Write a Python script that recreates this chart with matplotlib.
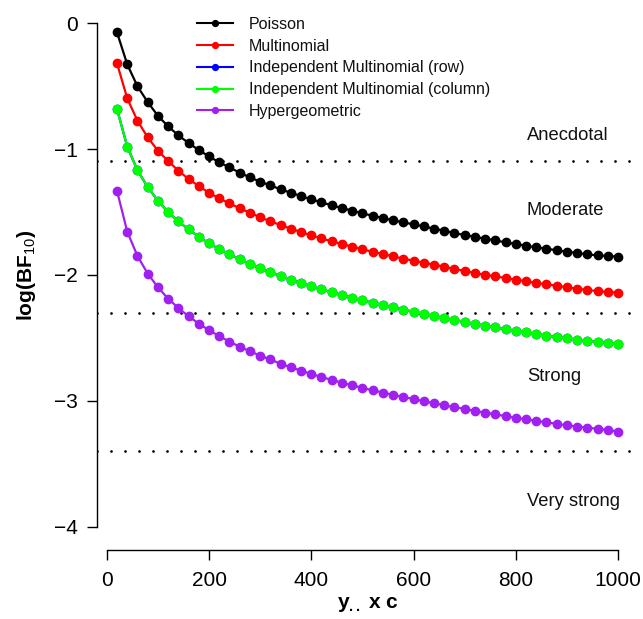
import matplotlib
matplotlib.use("Agg")
import matplotlib.pyplot as plt

plt.rcParams['font.family'] = ['Liberation Sans', 'DejaVu Sans']
plt.rcParams['mathtext.fontset'] = 'custom'
plt.rcParams['mathtext.rm'] = 'Liberation Sans'
plt.rcParams['mathtext.bf'] = 'Liberation Sans:bold'
plt.rcParams['mathtext.it'] = 'Liberation Sans:italic'

n_total = list(range(20, 1001, 20))

poisson = [-0.074, -0.328, -0.502, -0.627, -0.736, -0.820, -0.891, -0.952, -1.008, -1.058,
           -1.106, -1.145, -1.188, -1.225, -1.259, -1.288, -1.320, -1.347, -1.373, -1.399,
           -1.423, -1.447, -1.468, -1.489, -1.511, -1.529, -1.548, -1.566, -1.582, -1.598,
           -1.614, -1.632, -1.648, -1.667, -1.683, -1.696, -1.712, -1.725, -1.741, -1.754,
           -1.767, -1.781, -1.791, -1.804, -1.815, -1.825, -1.836, -1.844, -1.849, -1.854]

multinomial = [-0.320, -0.598, -0.775, -0.907, -1.013, -1.095, -1.172, -1.238, -1.294, -1.347,
               -1.392, -1.431, -1.471, -1.505, -1.542, -1.574, -1.603, -1.632, -1.659, -1.685,
               -1.709, -1.733, -1.754, -1.775, -1.796, -1.815, -1.833, -1.852, -1.870, -1.886,
               -1.902, -1.918, -1.934, -1.952, -1.968, -1.984, -1.998, -2.011, -2.024, -2.037,
               -2.050, -2.063, -2.074, -2.085, -2.098, -2.109, -2.119, -2.128, -2.135, -2.140]

indep_row = [-0.683, -0.981, -1.169, -1.302, -1.410, -1.500, -1.574, -1.638, -1.696, -1.749,
             -1.794, -1.836, -1.875, -1.913, -1.947, -1.979, -2.008, -2.037, -2.063, -2.090,
             -2.114, -2.137, -2.159, -2.180, -2.201, -2.220, -2.238, -2.256, -2.275, -2.292,
             -2.307, -2.325, -2.341, -2.357, -2.373, -2.389, -2.402, -2.415, -2.431, -2.442,
             -2.455, -2.468, -2.482, -2.492, -2.503, -2.513, -2.522, -2.531, -2.540, -2.550]

indep_col = [-0.683, -0.981, -1.169, -1.302, -1.410, -1.500, -1.574, -1.638, -1.696, -1.749,
             -1.794, -1.836, -1.875, -1.913, -1.947, -1.979, -2.008, -2.037, -2.063, -2.090,
             -2.114, -2.137, -2.159, -2.180, -2.201, -2.220, -2.238, -2.256, -2.275, -2.292,
             -2.307, -2.325, -2.341, -2.357, -2.373, -2.389, -2.402, -2.415, -2.431, -2.442,
             -2.455, -2.468, -2.482, -2.492, -2.503, -2.513, -2.522, -2.531, -2.540, -2.550]

hypergeometric = [-1.333, -1.656, -1.849, -1.989, -2.098, -2.188, -2.262, -2.328, -2.386, -2.439,
                  -2.485, -2.530, -2.569, -2.606, -2.640, -2.671, -2.704, -2.733, -2.759, -2.786,
                  -2.810, -2.833, -2.855, -2.876, -2.897, -2.915, -2.934, -2.952, -2.968, -2.985,
                  -3.002, -3.018, -3.034, -3.050, -3.063, -3.079, -3.093, -3.106, -3.121, -3.135,
                  -3.145, -3.159, -3.169, -3.183, -3.193, -3.204, -3.212, -3.222, -3.230, -3.243]

series_names = ["Poisson", "Multinomial", "Independent Multinomial (row)",
                "Independent Multinomial (column)", "Hypergeometric"]
series_colors = ["#000000", "#FF0000", "#0000FF", "#00FF00", "#A020F0"]

thresholds = [-1.0986, -2.3026, -3.4012]
evidence_labels = ["Anecdotal", "Moderate", "Strong", "Very strong"]
evidence_y = [-0.889, -1.49, -2.81, -3.80]

xticks = [0, 200, 400, 600, 800, 1000]
yticks = [0, -1, -2, -3, -4]

W, H = 643, 619
fig = plt.figure(figsize=(W / 100, H / 100), dpi=100)
ax = fig.add_axes([97 / W, 1 - 547 / H, 541 / W, 544 / H])

all_series = [poisson, multinomial, indep_row, indep_col, hypergeometric]
handles = []
for vals, name, col in zip(all_series, series_names, series_colors):
    ax.plot(n_total, vals, color=col, lw=1.6, marker='o', ms=6.0, mec=col, mfc=col, zorder=3)
    h, = ax.plot([], [], color=col, lw=1.5, marker='o', ms=4.2, mec=col, mfc=col, label=name)
    handles.append(h)

for t in thresholds:
    ax.axhline(t, color='black', lw=2.0, linestyle=(0, (0.01, 5.03)),
               dash_capstyle='round', zorder=2)

for lab, yy in zip(evidence_labels, evidence_y):
    ax.text(822, yy, lab, ha='left', va='center', fontsize=13.2, color='#111111')

ax.set_xlim(-19.2, 1039.2)
ax.set_ylim(-4.16, 0.16)
ax.set_xticks(xticks)
ax.set_yticks(yticks)
ax.set_xticklabels([str(v) for v in xticks])
ax.set_yticklabels(["\u2212%d" % (-v) if v < 0 else "0" for v in yticks])

for s in ['top', 'right']:
    ax.spines[s].set_visible(False)
ax.spines['left'].set_bounds(-4, 0)
ax.spines['bottom'].set_bounds(0, 1000)
ax.spines['bottom'].set_position(('outward', 2))
ax.spines['left'].set_linewidth(1.0)
ax.spines['bottom'].set_linewidth(1.0)
ax.tick_params(axis='both', direction='out', length=7, width=1.0, labelsize=15, color='black')
ax.tick_params(axis='x', pad=8)
ax.tick_params(axis='y', pad=7)

fig.text(368 / W, 1 - 605 / H, r'$\mathbf{y}_{\mathbf{..}}\ \mathbf{x\ c}$', fontsize=15,
         ha='center', va='center')
fig.text(27 / W, 1 - 275 / H, r'$\mathbf{log(BF}_{\mathrm{10}}\mathbf{)}$', fontsize=15,
         ha='center', va='center', rotation=90)

leg = ax.legend(handles=handles, loc='upper left',
                bbox_to_anchor=(197 / W, 1 - 17 / H), bbox_transform=fig.transFigure,
                frameon=False, fontsize=11.5, handlelength=2.25, handletextpad=1.0,
                labelspacing=0.42, borderpad=0, borderaxespad=0)
for t in leg.get_texts():
    t.set_color('#111111')

fig.savefig('out.png', dpi=100)
